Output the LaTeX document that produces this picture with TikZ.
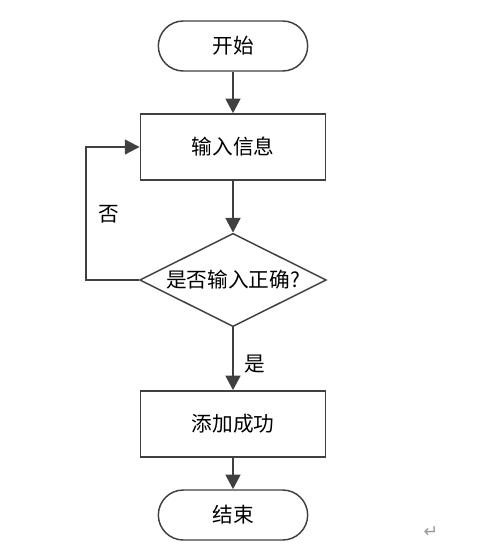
\documentclass[tikz,border=0pt]{standalone}
\usepackage{fontspec}
\setmainfont{Noto Sans CJK SC}
\newfontfamily\markfont{DejaVu Sans}
\usetikzlibrary{arrows.meta,shapes.geometric}

\definecolor{linegray}{HTML}{404040}
\definecolor{markgray}{HTML}{9A9A9A}

\tikzset{
  terminal/.style={draw=linegray,line width=1.1pt,rounded corners=18.75pt,
    minimum width=112pt,minimum height=37.5pt,inner sep=0pt},
  process/.style={draw=linegray,line width=1.1pt,
    minimum width=139pt,minimum height=49.5pt,inner sep=0pt},
  decision/.style={draw=linegray,line width=1.1pt,diamond,aspect=2,
    minimum width=140pt,minimum height=70pt,inner sep=0pt},
  flow/.style={draw=linegray,line width=2pt,
    -{Triangle[length=11pt,width=11pt]}},
  backflow/.style={draw=linegray,line width=1.4pt,
    -{Triangle[length=11pt,width=11pt]}},
}

\begin{document}
\begin{tikzpicture}[x=0.75pt,y=-0.75pt,font=\fontsize{15.5}{18}\selectfont]
\useasboundingbox (0,0) rectangle (491,549);

\node[terminal] (start) at (233,46) {开始};
\node[process] (input) at (233,147) {输入信息};
\node[decision] (check) at (233,280) {是否输入正确?};
\node[process] (done) at (233,424) {添加成功};
\node[terminal] (stop) at (233,515) {结束};

\coordinate (loopdown) at (86,280);
\coordinate (loopup) at (86,147);

\draw[flow] (start) -- (input);
\draw[flow] (input) -- (check);
\draw[flow] (check) -- (done) node [pos=0.58,right=4pt] (yes) {是};
\draw[flow] (done) -- (stop);

\draw[backflow] (check.west) -- (loopdown) -- (loopup) -- (input.west);
\node (no) at (109,214) {否};

\node[text=markgray,font=\markfont\fontsize{13}{15}\selectfont] (mark) at (431,532) {↵};
\end{tikzpicture}
\end{document}
